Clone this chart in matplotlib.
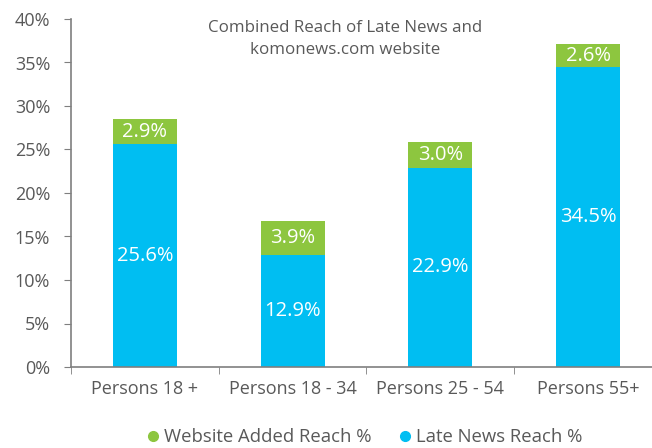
import matplotlib.pyplot as plt
import numpy as np
from matplotlib.lines import Line2D

categories = ['Persons 18 +', 'Persons 18 - 34', 'Persons 25 - 54', 'Persons 55+']
late_news = [25.6, 12.9, 22.9, 34.5]
website_added = [2.9, 3.9, 3.0, 2.6]
y_ticks = [0, 5, 10, 15, 20, 25, 30, 35, 40]

blue = '#00BEF2'
green = '#8DC63F'
grey = '#595959'

plt.rcParams['font.family'] = ['Open Sans', 'DejaVu Sans']

fig = plt.figure(figsize=(6.52, 4.48), dpi=100)
ax = fig.add_axes([71 / 652, 81 / 448, 591 / 652, 348 / 448])

x = np.arange(len(categories))
w = 0.433
ax.bar(x, late_news, width=w, color=blue, zorder=2)
ax.bar(x, website_added, width=w, bottom=late_news, color=green, zorder=2)

for i in range(len(categories)):
    ax.text(x[i], late_news[i] / 2, f'{late_news[i]:.1f}%', ha='center', va='center',
            color='white', fontsize=14.5)
    ax.text(x[i], late_news[i] + website_added[i] / 2, f'{website_added[i]:.1f}%',
            ha='center', va='center', color='white', fontsize=14.5)

ax.set_xlim(-0.5, 3.5)
ax.set_ylim(0, 40)
ax.set_yticks(y_ticks)
ax.set_yticklabels([f'{t}%' for t in y_ticks])
ax.set_xticks(x)
ax.set_xticklabels(categories)
ax.set_xticks(np.arange(-0.5, 4, 1), minor=True)

for s in ['top', 'right']:
    ax.spines[s].set_visible(False)
for s in ['left', 'bottom']:
    ax.spines[s].set_color('#7f7f7f')
    ax.spines[s].set_linewidth(1.2)

ax.tick_params(axis='y', colors='#7f7f7f', labelcolor=grey, labelsize=13, length=5, pad=10)
ax.tick_params(axis='x', which='major', length=0, labelcolor=grey, labelsize=13, pad=9)
ax.tick_params(axis='x', which='minor', length=5, color='#7f7f7f')

fig.text(345 / 652, 1 - 39 / 448, 'Combined Reach of Late News and\nkomonews.com website',
         ha='center', va='center', color=grey, fontsize=12.2, linespacing=1.5)

handles = [Line2D([], [], marker='o', linestyle='', color=green, markersize=7),
           Line2D([], [], marker='o', linestyle='', color=blue, markersize=7)]
fig.legend(handles, ['Website Added Reach %', 'Late News Reach %'], loc='center',
           bbox_to_anchor=(363 / 652, 1 - 437 / 448), ncol=2, frameon=False,
           fontsize=13.3, labelcolor=grey, handletextpad=0.1, columnspacing=1.3,
           handlelength=1.0)

fig.savefig('out.png', dpi=100)
